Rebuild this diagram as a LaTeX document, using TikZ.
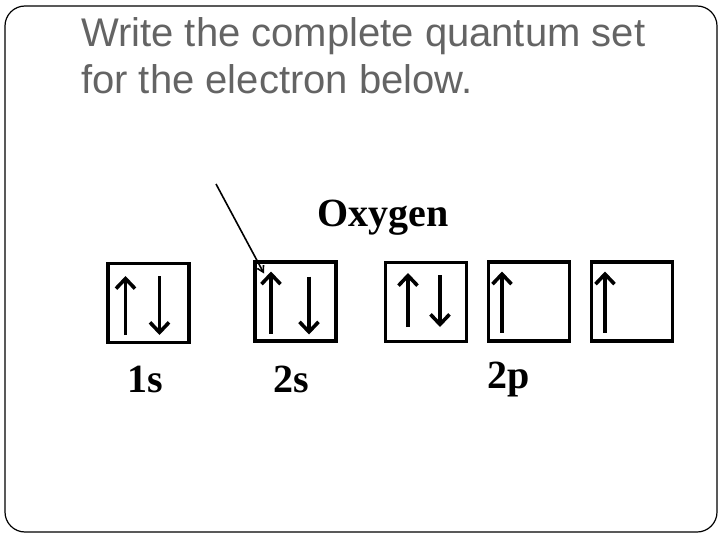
\documentclass[tikz,border=0pt]{standalone}
\usepackage{fontspec}
\setmainfont{Liberation Serif}
\newfontfamily\titlefont{Liberation Sans}
\usetikzlibrary{arrows.meta}
\definecolor{titlegray}{RGB}{100,100,100}
\tikzset{
  orbital/.style={rectangle,draw,line width=3.8pt,minimum width=81pt,minimum height=79pt,inner sep=0pt},
  spin/.style={line width=3.6pt,-{Straight Barb[length=10pt,width=19pt,line width=3.6pt]}},
  pointer/.style={line width=1.6pt,-{Straight Barb[length=6pt,width=7pt,line width=1.6pt]}},
  sublevel/.style={anchor=base,font=\fontsize{40}{44}\selectfont\bfseries},
  heading/.style={anchor=base west,text=titlegray,font=\titlefont\fontsize{40}{44}\selectfont,inner sep=0pt}
}

\begin{document}
\begin{tikzpicture}[x=1pt,y=-1pt]
\useasboundingbox (0,0) rectangle (720,540);
\draw[line width=1.2pt,rounded corners=20pt] (5,6) rectangle (717,532);
\node[heading] (t1) at (81,47) {Write the complete quantum set};
\node[heading] (t2) at (81,94) {for the electron below.};
\node[sublevel] (elem) at (383,226) {Oxygen};
% orbital boxes
\node[orbital] (b1) at (148.5,303) {};
\node[orbital] (b2) at (295.5,301.5) {};
\node[orbital] (b3) at (426,302) {};
\node[orbital] (b4) at (529,301.5) {};
\node[orbital] (b5) at (632,301.5) {};
% electrons
\draw[spin] ([xshift=-23pt,yshift=-32pt]b1.center) -- ([xshift=-23pt,yshift=27pt]b1.center);
\draw[spin] ([xshift=11pt,yshift=27pt]b1.center) -- ([xshift=11pt,yshift=-32pt]b1.center);
\coordinate (up2) at ([xshift=-24.5pt,yshift=30pt]b2.center);
\draw[spin] ([xshift=-24.5pt,yshift=-32pt]b2.center) -- (up2);
\draw[spin] ([xshift=13.5pt,yshift=25pt]b2.center) -- ([xshift=13.5pt,yshift=-33pt]b2.center);
\draw[spin] ([xshift=-18pt,yshift=-25pt]b3.center) -- ([xshift=-18pt,yshift=29pt]b3.center);
\draw[spin] ([xshift=14pt,yshift=27pt]b3.center) -- ([xshift=14pt,yshift=-25pt]b3.center);
\draw[spin] ([xshift=-27pt,yshift=-31pt]b4.center) -- ([xshift=-27pt,yshift=30pt]b4.center);
\draw[spin] ([xshift=-27pt,yshift=-31pt]b5.center) -- ([xshift=-27pt,yshift=30pt]b5.center);
% pointer to the chosen electron
\coordinate (tail) at (216,184);
\draw[pointer] (tail) -- ([xshift=-7pt,yshift=-2pt]up2);
% sublevel labels
\node[sublevel] (l1) at (145,392) {1s};
\node[sublevel] (l2) at (291,392) {2s};
\node[sublevel] (l3) at (509,388) {2p};
\end{tikzpicture}
\end{document}
